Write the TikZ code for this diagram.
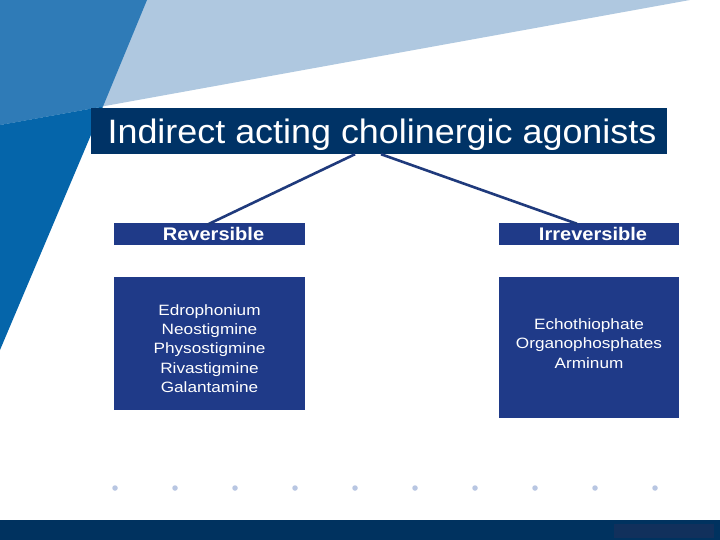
\documentclass[tikz,border=0pt]{standalone}
\usepackage{fontspec}
\setmainfont{Liberation Sans}
\newfontfamily\titlefont[FakeStretch=1.06]{Liberation Sans}
\newfontfamily\headfont[FakeStretch=1.1]{Liberation Sans}
\newfontfamily\listfont[FakeStretch=1.15]{Liberation Sans}
\definecolor{lightbg}{HTML}{AFC8E0}
\definecolor{midbg}{HTML}{2F7BB7}
\definecolor{darkbg}{HTML}{0565AA}
\definecolor{titlenavy}{HTML}{003366}
\definecolor{boxnavy}{HTML}{1F3A88}
\definecolor{linenavy}{HTML}{1F3A7C}
\definecolor{dotblue}{HTML}{B8C6E2}
\definecolor{barnavy}{HTML}{00325F}
\definecolor{barpatch}{HTML}{11305C}
\tikzset{
  titlebox/.style={fill=titlenavy, inner sep=0pt},
  titletext/.style={text=white, inner sep=0pt, font=\titlefont\fontsize{34}{40}\selectfont},
  headbox/.style={fill=boxnavy, inner sep=0pt},
  headtext/.style={text=white, inner sep=0pt, font=\headfont\fontsize{18.3}{22}\selectfont\bfseries},
  listbox/.style={fill=boxnavy, inner sep=0pt},
  listtext/.style={text=white, inner sep=0pt, align=center, font=\listfont\fontsize{15}{19.25}\selectfont},
  conn/.style={draw=linenavy, line width=2.6bp},
  dot/.style={fill=dotblue, circle, inner sep=0pt, minimum size=5.5bp}
}
\begin{document}
\begin{tikzpicture}[x=1bp,y=-1bp]
\useasboundingbox (0,0) rectangle (720,540);
\fill[white] (0,0) rectangle (720,540);
% background shapes
\fill[lightbg] (0,0) -- (690,0) -- (0,125) -- cycle;
\fill[midbg] (0,0) -- (147,0) -- (103,106.5) -- (0,125) -- cycle;
\fill[darkbg] (0,125) -- (103,106.5) -- (0,350) -- cycle;
% bottom bar
\fill[barnavy] (0,520) rectangle (720,540);
\fill[barpatch] (614,524) rectangle (714,538);
% dots
\foreach \i in {0,...,9} {
  \node[dot] (d\i) at (115+60*\i,488) {};
}
% title
\node[titlebox, minimum width=576bp, minimum height=46bp] (title) at (379,131) {};
\node[titletext] (titlet) at ([xshift=3bp,yshift=-3.5bp]title.center) {Indirect acting cholinergic agonists};
% heads
\node[headbox, minimum width=191bp, minimum height=22bp] (rev) at (209.5,234) {};
\node[headtext] (revt) at ([xshift=4bp]rev.center) {Reversible};
\node[headbox, minimum width=180bp, minimum height=22bp] (irr) at (589,234) {};
\node[headtext] (irrt) at ([xshift=4bp]irr.center) {Irreversible};
% lists
\node[listbox, minimum width=191bp, minimum height=133bp] (revlist) at (209.5,343.5) {};
\node[listtext] (revlistt) at ([yshift=-5bp]revlist.center) {Edrophonium\\Neostigmine\\Physostigmine\\Rivastigmine\\Galantamine};
\node[listbox, minimum width=180bp, minimum height=141bp] (irrlist) at (589,347.5) {};
\node[listtext] (irrlistt) at ([yshift=4bp]irrlist.center) {Echothiophate\\Organophosphates\\Arminum};
% connectors
\draw[conn] ([xshift=-24bp]title.south) -- ([xshift=-2.5bp,yshift=-2bp]rev.north);
\draw[conn] ([xshift=2bp]title.south) -- ([xshift=-12bp,yshift=-1bp]irr.north);
\end{tikzpicture}
\end{document}
